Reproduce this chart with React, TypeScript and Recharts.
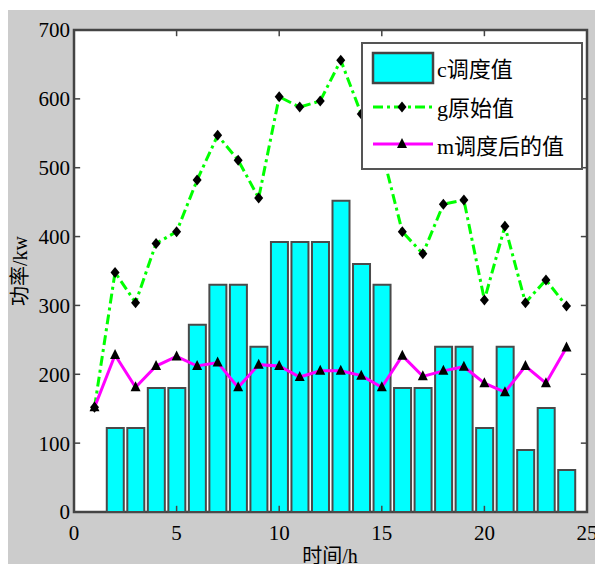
import { ComposedChart, Bar, Line, XAxis, YAxis, CartesianGrid, Legend, Label, ReferenceArea, ReferenceLine } from 'recharts';

const hours = [1, 2, 3, 4, 5, 6, 7, 8, 9, 10, 11, 12, 13, 14, 15, 16, 17, 18, 19, 20, 21, 22, 23, 24];
const scheduled = [null, 122, 122, 180, 180, 272, 330, 330, 240, 392, 392, 392, 452, 360, 330, 180, 180, 240, 240, 122, 240, 90, 151, 61];
const original = [152, 348, 304, 390, 407, 482, 547, 511, 456, 603, 588, 597, 656, 578, 525, 407, 375, 447, 453, 308, 415, 304, 337, 299];
const adjusted = [152, 228, 181, 212, 226, 212, 217, 181, 214, 212, 196, 205, 205, 198, 181, 227, 197, 205, 211, 187, 174, 212, 187, 239];

const xTicks = [0, 5, 10, 15, 20, 25];
const yTicks = [0, 100, 200, 300, 400, 500, 600, 700];

const data = hours.map((h, i) => ({ h, c: scheduled[i], g: original[i], m: adjusted[i] }));

const FONT = "'Liberation Serif', 'Noto Sans CJK SC', serif";
const FRAME = '#444';
// inward tick length in data units (about 6px each way)
const TICK_Y = 9;
const TICK_X = 0.3;

const Diamond = ({ cx, cy }: { cx: number; cy: number }) => (
  <path d={`M${cx},${cy - 5.5} L${cx + 4.5},${cy} L${cx},${cy + 5.5} L${cx - 4.5},${cy} Z`} fill="#000" />
);

const Triangle = ({ cx, cy }: { cx: number; cy: number }) => (
  <path d={`M${cx},${cy - 6} L${cx + 5},${cy + 4} L${cx - 5},${cy + 4} Z`} fill="#000" />
);

const renderLegend = () => (
  <svg width={222} height={128} style={{ display: 'block', fontFamily: FONT }}>
    <rect x={1} y={1} width={220} height={126} fill="#fff" stroke="#555" strokeWidth={2} />
    <rect x={12} y={11} width={60} height={30} fill="#00ffff" stroke={FRAME} strokeWidth={2.5} />
    <text x={76} y={27} fontSize={22} dominantBaseline="central" fill="#000">c调度值</text>
    <line x1={12} y1={65} x2={72} y2={65} stroke="#00ff00" strokeWidth={3} strokeDasharray="10 4 3 4" />
    <Diamond cx={41} cy={65} />
    <text x={76} y={66} fontSize={22} dominantBaseline="central" fill="#000">g原始值</text>
    <line x1={12} y1={102} x2={72} y2={102} stroke="#ff00ff" strokeWidth={3} />
    <Triangle cx={41} cy={102} />
    <text x={76} y={104} fontSize={22} dominantBaseline="central" fill="#000">m调度后的值</text>
  </svg>
);

export default function App() {
  const tickStyle = { fontSize: 21, fill: '#000', fontFamily: FONT };
  const tickLineStyle = { stroke: FRAME, strokeWidth: 1.5 };

  return (
    <div style={{ marginTop: 2, marginBottom: -8, width: 595, height: 562, background: '#cccccc', fontFamily: FONT }}>
      <ComposedChart width={595} height={562} data={data} style={{ fontFamily: FONT, overflow: 'visible' }}
        margin={{ top: 20, right: 16, bottom: 0, left: 0 }}>
        <CartesianGrid horizontal={false} vertical={false} fill="#fff" />

        <XAxis dataKey="h" type="number" domain={[0, 25]} ticks={xTicks} height={60}
          tickLine={false} axisLine={false} tick={tickStyle} tickSize={6} tickMargin={7} interval={0}>
          <Label content={() => (
            <text x={322} y={546} textAnchor="middle" dominantBaseline="central" fontSize={20} fontFamily={FONT} fill="#000">时间/h</text>
          )} />
        </XAxis>
        <YAxis type="number" domain={[0, 700]} ticks={yTicks} width={66}
          tickLine={false} axisLine={false} tick={tickStyle} tickSize={2} tickMargin={2} interval={0}>
          <Label content={() => (
            <text x={12} y={261} transform="rotate(-90 12 261)" textAnchor="middle" dominantBaseline="central" fontSize={20} fontFamily={FONT} fill="#000">功率/kw</text>
          )} />
        </YAxis>

        <Bar dataKey="c" barSize={17} fill="#00ffff" stroke="#4a4a4a" strokeWidth={2} isAnimationActive={false} />
        <Line dataKey="g" type="linear" stroke="#00ff00" strokeWidth={3} strokeDasharray="10 4 3 4"
          isAnimationActive={false}
          dot={(p: any) => <Diamond key={`g${p.index}`} cx={p.cx} cy={p.cy} />} activeDot={false} />
        <Line dataKey="m" type="linear" stroke="#ff00ff" strokeWidth={3} isAnimationActive={false}
          dot={(p: any) => <Triangle key={`m${p.index}`} cx={p.cx} cy={p.cy} />} activeDot={false} />

        {xTicks.map((t) => (
          <ReferenceLine key={`xb${t}`} segment={[{ x: t, y: 0 }, { x: t, y: TICK_Y }]} {...tickLineStyle} />
        ))}
        {xTicks.map((t) => (
          <ReferenceLine key={`xt${t}`} segment={[{ x: t, y: 700 }, { x: t, y: 700 - TICK_Y }]} {...tickLineStyle} />
        ))}
        {yTicks.map((t) => (
          <ReferenceLine key={`yl${t}`} segment={[{ x: 0, y: t }, { x: TICK_X, y: t }]} {...tickLineStyle} />
        ))}
        {yTicks.map((t) => (
          <ReferenceLine key={`yr${t}`} segment={[{ x: 25, y: t }, { x: 25 - TICK_X, y: t }]} {...tickLineStyle} />
        ))}
        <ReferenceArea x1={0} x2={25} y1={0} y2={700} fill="none" fillOpacity={0} stroke={FRAME} strokeWidth={2.5} />

        <Legend layout="horizontal" verticalAlign="middle" content={renderLegend}
          wrapperStyle={{ position: 'absolute', left: 353, top: 32, width: 222, height: 128 }} />
      </ComposedChart>
    </div>
  );
}
